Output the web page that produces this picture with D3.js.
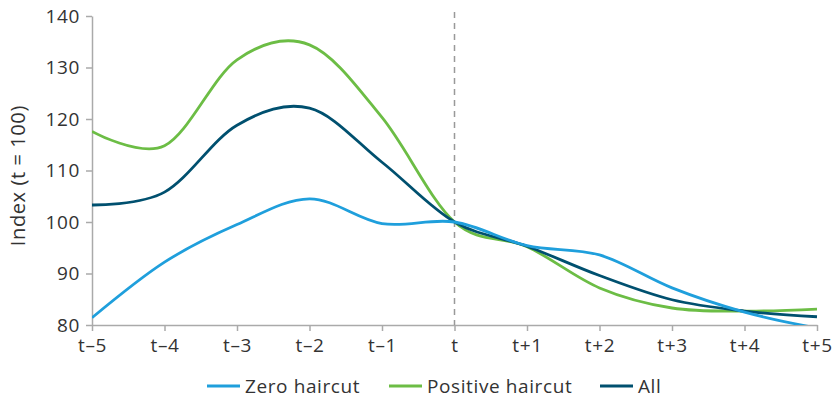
<!DOCTYPE html>
<html><head><meta charset="utf-8">
<script src="https://cdn.jsdelivr.net/npm/d3@7"></script>
<style>body{margin:0;background:#fff}svg{display:block}text{font-family:"Open Sans",sans-serif;fill:#333;letter-spacing:0.6px}</style>
</head><body><svg id="c" width="835" height="400"></svg>
<script>
const tickLabels = ["t–5","t–4","t–3","t–2","t–1","t","t+1","t+2","t+3","t+4","t+5"];
const yTicks = [80,90,100,110,120,130,140];
const periods = [0,1,2,3,4,5,6,7,8,9,10];
const zeroHaircut = [81.4,92.2,99.5,104.5,99.7,100,95.4,93.6,87.2,82.5,79.4];
const positiveHaircut = [117.6,114.8,131.5,134.4,120.3,100,95.2,87.2,83.3,82.7,83.1];
const all = [103.3,105.8,118.8,122.1,111.6,100,95.3,89.6,84.9,82.7,81.6];
const seriesNames = ["Zero haircut","Positive haircut","All"];
const colors = ["#1f9fdc","#6cbd45","#00506f"];

const svg = d3.select("#c");
const x = d3.scaleLinear().domain([0,10]).range([92,817]);
const y = d3.scaleLinear().domain([80,140]).range([325,16]);

svg.append("defs").append("clipPath").attr("id","plot").append("rect")
  .attr("x",x(0)).attr("y",0).attr("width",x(10)-x(0)+10).attr("height",y(80));

// axes
const xAxis = d3.axisBottom(x).tickValues(periods).tickFormat(i=>tickLabels[i]).tickSize(6).tickSizeOuter(0);
const gx = svg.append("g").attr("transform","translate(0,325)").call(xAxis);
gx.select(".domain").attr("stroke","#aaa").attr("stroke-width",1.5);
gx.selectAll(".tick line").attr("stroke","#aaa").attr("stroke-width",1.5);
gx.selectAll("text").attr("dy",0).attr("y",27).style("font-size","19px").style("fill","#333");

const yAxis = d3.axisLeft(y).tickValues(yTicks).tickSize(6).tickSizeOuter(0);
const gy = svg.append("g").attr("transform","translate(92,0)").call(yAxis);
gy.select(".domain").attr("stroke","#aaa").attr("stroke-width",1.5);
gy.selectAll(".tick line").attr("stroke","#aaa").attr("stroke-width",1.5);
gy.selectAll("text").attr("x",-12).style("font-size","19px").style("fill","#333");

// y label
svg.append("text").attr("transform","translate(25,"+y(109)+") rotate(-90)")
  .attr("text-anchor","middle").style("font-size","20px").text("Index (t = 100)");

// dashed line at t
svg.append("line").attr("x1",x(5)).attr("x2",x(5)).attr("y1",12).attr("y2",325)
  .attr("stroke","#999").attr("stroke-width",1.5).attr("stroke-dasharray","6,5");

const line = d3.line().x(d=>x(d[0])).y(d=>y(d[1])).curve(d3.curveCardinal.tension(0));
const vals = [zeroHaircut, positiveHaircut, all];
const g = svg.append("g").attr("clip-path","url(#plot)");
[1,2,0].forEach(k=>{
  g.append("path").attr("d",line(periods.map((p,i)=>[p,vals[k][i]])))
    .attr("fill","none").attr("stroke",colors[k]).attr("stroke-width",2.8);
});

// legend
const legX = [207,389,600];
seriesNames.forEach((n,i)=>{
  svg.append("line").attr("x1",legX[i]).attr("x2",legX[i]+33).attr("y1",386).attr("y2",386)
    .attr("stroke",colors[i]).attr("stroke-width",3);
  svg.append("text").attr("x",legX[i]+38).attr("y",393).style("font-size","19px").text(n);
});
</script></body></html>
